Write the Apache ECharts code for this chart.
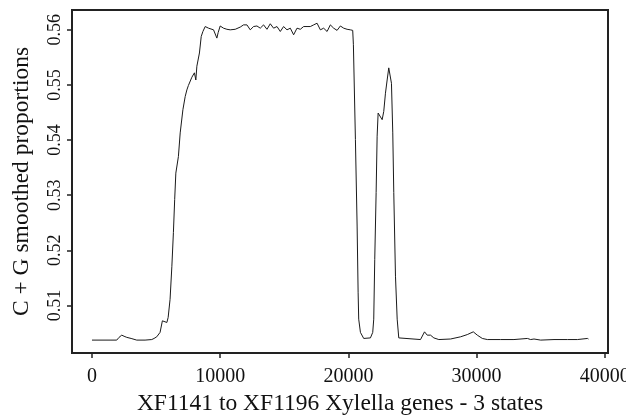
<!DOCTYPE html>
<html>
<head>
<meta charset="utf-8">
<script src="https://cdn.jsdelivr.net/npm/echarts@6/dist/echarts.min.js"></script>
<style>html,body{margin:0;padding:0;background:#fff}#c{width:626px;height:417px}</style>
</head>
<body>
<div id="c"></div>
<script>
// Data
const positions = [0,1406,1930,2110,2320,2500,2710,3050,3490,4140,4660,4840,5050,5310,5490,5625,5840,5940,6090,6230,6350,6450,6540,6740,6880,7090,7270,7400,7520,7790,7990,8100,8180,8380,8520,8650,8830,9090,9220,9480,9740,9840,10000,
10258,10523,10781,11172,11563,11820,12086,12344,12602,12867,13125,13383,13648,13906,14164,14430,14688,14945,15211,15469,15727,15992,16250,16508,16773,17031,17289,17555,17813,18070,18336,18594,18852,19117,19375,19633,19898,20156,20336,
20390,20547,20680,20758,20805,20938,21195,21719,21898,21977,22055,22164,22242,22320,22422,22633,22758,22891,23023,23148,23281,23359,23461,23539,23672,23805,23930,24063,
25625,25938,26148,26406,26664,27055,27969,28750,29273,29742,30055,30445,30836,31875,32914,33961,34219,34477,35000,36039,37086,37867,38648,38727];
const proportions = [0.5037,0.5037,0.5037,0.5042,0.5046,0.5044,0.5042,0.5040,0.5037,0.5037,0.5038,0.5040,0.5043,0.5051,0.5072,0.5075,0.5069,0.5078,0.5111,0.5171,0.5232,0.5292,0.5340,0.5370,0.5413,0.5455,0.5479,0.5491,0.5499,0.5514,0.5522,0.5509,0.5534,0.5558,0.5588,0.5597,0.5606,0.5603,0.5605,0.5600,0.5585,0.5595,0.5607,
0.5603,0.5601,0.5600,0.5601,0.5605,0.5609,0.5609,0.5600,0.5606,0.5607,0.5603,0.5609,0.5601,0.5611,0.5603,0.5606,0.5597,0.5606,0.5600,0.5603,0.5591,0.5603,0.5601,0.5606,0.5606,0.5606,0.5609,0.5612,0.5600,0.5603,0.5597,0.5609,0.5603,0.5599,0.5607,0.5603,0.5601,0.5600,0.5599,
0.5573,0.5401,0.5244,0.5124,0.5075,0.5051,0.5040,0.5041,0.5051,0.5075,0.5183,0.5305,0.5407,0.5449,0.5452,0.5437,0.5452,0.5485,0.5509,0.5531,0.5528,0.5503,0.5413,0.5305,0.5153,0.5075,0.5041,0.5038,
0.5038,0.5052,0.5046,0.5046,0.5041,0.5038,0.5039,0.5043,0.5047,0.5052,0.5046,0.5040,0.5038,0.5038,0.5038,0.5040,0.5038,0.5039,0.5037,0.5038,0.5038,0.5038,0.5040,0.5039];
const xTicks = [0,10000,20000,30000,40000];
const yTicks = [0.51,0.52,0.53,0.54,0.55,0.56];
const xTitle = 'XF1141 to XF1196 Xylella genes - 3 states';
const yTitle = 'C + G smoothed proportions';

const font = 'Liberation Serif';
const chart = echarts.init(document.getElementById('c'), null, {renderer:'canvas'});
chart.setOption({
  animation: false,
  backgroundColor: '#fff',
  grid: {left:72, right:18, top:10, bottom:64, outerBoundsMode:'none', containLabel:false,
         show:true, borderColor:'#222', borderWidth:2, backgroundColor:'transparent'},
  xAxis: {
    type:'value', min:-1560, max:40250,
    axisLine:{show:true, onZero:false, lineStyle:{color:'#222', width:2}},
    splitLine:{show:false},
    axisTick:{show:true, inside:false, customValues:xTicks, length:5, lineStyle:{color:'#222', width:1.5}},
    axisLabel:{show:true, customValues:xTicks, margin:14, fontFamily:font, fontSize:20, color:'#111', formatter: v => String(v)},
    name:xTitle, nameLocation:'middle', nameGap:32,
    nameTextStyle:{fontFamily:font, fontSize:23.5, color:'#111'}
  },
  yAxis: {
    type:'value', min:0.50136, max:0.5636,
    axisLine:{show:true, onZero:false, lineStyle:{color:'#222', width:2}},
    splitLine:{show:false},
    axisTick:{show:true, inside:false, customValues:yTicks, length:5, lineStyle:{color:'#222', width:1.5}},
    axisLabel:{show:true, customValues:yTicks, rotate:90, margin:8, fontFamily:font, fontSize:18, color:'#111',
      formatter: v => v.toFixed(2)},
    name:yTitle, nameLocation:'middle', nameGap:38,
    nameTextStyle:{fontFamily:font, fontSize:23.5, color:'#111'}
  },
  series: [{
    type:'line',
    data: positions.map((x,i)=>[x, proportions[i]]),
    showSymbol:false,
    lineStyle:{color:'#1a1a1a', width:1},
    silent:true
  }]
});
</script>
</body>
</html>
